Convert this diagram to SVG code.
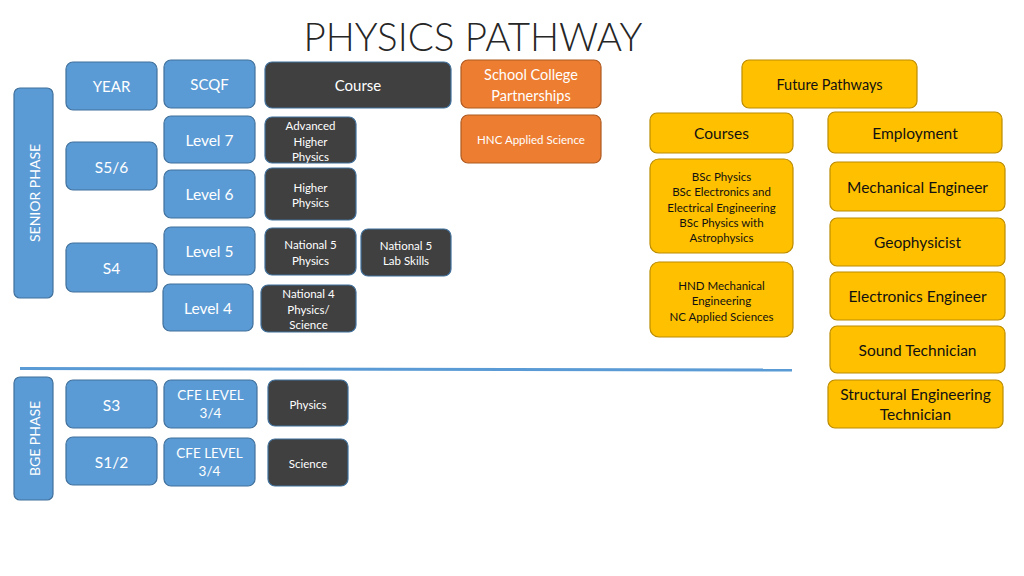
<svg xmlns="http://www.w3.org/2000/svg" width="1024" height="576" viewBox="0 0 1024 576">
<style>
text{font-family:Lato,"Liberation Sans",sans-serif;text-anchor:middle;dominant-baseline:central}
.b{fill:#5B9BD5;stroke:#41719C;stroke-width:1.2}
.d{fill:#404040;stroke:#41719C;stroke-width:1.2}
.o{fill:#ED7D31;stroke:#AE5A21;stroke-width:1.2}
.g{fill:#FFC000;stroke:#BC8C00;stroke-width:1.2}
.tw{fill:#fff;font-size:15.5px}
.ts{fill:#fff;font-size:11.5px}
.tg{fill:#111;font-size:15.5px}
.tgs{fill:#111;font-size:11.5px}
</style>
<rect width="1024" height="576" fill="#fff"/>
<text x="473" y="36" style="font-size:38.5px;font-weight:300;fill:#262626">PHYSICS PATHWAY</text>

<g id="senior-phase"><rect class="b" x="14" y="88" width="39" height="210" rx="6"/><text class="tw" transform="translate(34,193) rotate(-90)" style="font-size:14px">SENIOR PHASE</text></g>
<g id="year"><rect class="b" x="66" y="62" width="91" height="48" rx="7"/><text class="tw" x="111.5" y="86" style="font-size:15px">YEAR</text></g>
<g id="scqf"><rect class="b" x="164" y="60" width="91" height="48" rx="7"/><text class="tw" x="209.5" y="84" style="font-size:15px">SCQF</text></g>
<g id="course"><rect class="d" x="265" y="62" width="186" height="46" rx="7"/><text class="tw" x="358" y="85" style="font-size:15px">Course</text></g>
<g id="scp"><rect class="o" x="461" y="60" width="140" height="48" rx="7"/><text class="tw" x="531" y="74" style="font-size:14.5px">School College</text><text class="tw" x="531" y="95" style="font-size:14.5px">Partnerships</text></g>
<g id="future"><rect class="g" x="742" y="60" width="175" height="48" rx="7"/><text class="tg" x="829.5" y="84" style="font-size:14.5px">Future Pathways</text></g>

<g id="level7"><rect class="b" x="164" y="116" width="91" height="47" rx="7"/><text class="tw" x="209.5" y="140">Level 7</text></g>
<g id="adv-higher"><rect class="d" x="265" y="117" width="91" height="46" rx="7"/><text class="ts" x="310.5" y="125">Advanced</text><text class="ts" x="310.5" y="141">Higher</text><text class="ts" x="310.5" y="156">Physics</text></g>
<g id="hnc"><rect class="o" x="461" y="115" width="140" height="48" rx="7"/><text class="ts" x="531" y="139.5">HNC Applied Science</text></g>
<g id="courses"><rect class="g" x="650" y="113" width="143" height="40" rx="7"/><text class="tg" x="721.5" y="133">Courses</text></g>
<g id="employment"><rect class="g" x="828" y="112" width="174" height="41" rx="7"/><text class="tg" x="915" y="132.5">Employment</text></g>

<g id="s56"><rect class="b" x="66" y="142" width="91" height="48" rx="7"/><text class="tw" x="111.5" y="167">S5/6</text></g>
<g id="level6"><rect class="b" x="164" y="170" width="91" height="48" rx="7"/><text class="tw" x="209.5" y="194">Level 6</text></g>
<g id="higher"><rect class="d" x="265" y="168" width="91" height="52" rx="7"/><text class="ts" x="310.5" y="187">Higher</text><text class="ts" x="310.5" y="202">Physics</text></g>
<g id="bsc"><rect class="g" x="650" y="159" width="143" height="94" rx="9"/><text class="tgs" x="721.5" y="176">BSc Physics</text><text class="tgs" x="721.5" y="191">BSc Electronics and</text><text class="tgs" x="721.5" y="207">Electrical Engineering</text><text class="tgs" x="721.5" y="222">BSc Physics with</text><text class="tgs" x="721.5" y="237">Astrophysics</text></g>
<g id="mech"><rect class="g" x="830" y="162" width="175" height="49" rx="7"/><text class="tg" x="917.5" y="187">Mechanical Engineer</text></g>

<g id="level5"><rect class="b" x="164" y="227" width="91" height="48" rx="7"/><text class="tw" x="209.5" y="251">Level 5</text></g>
<g id="nat5"><rect class="d" x="265" y="228" width="91" height="47" rx="7"/><text class="ts" x="310.5" y="244">National 5</text><text class="ts" x="310.5" y="260">Physics</text></g>
<g id="nat5lab"><rect class="d" x="361" y="229" width="90" height="47" rx="7"/><text class="ts" x="406" y="245">National 5</text><text class="ts" x="406" y="260">Lab Skills</text></g>
<g id="s4"><rect class="b" x="66" y="243" width="91" height="49" rx="7"/><text class="tw" x="111.5" y="268">S4</text></g>
<g id="geo"><rect class="g" x="830" y="218" width="175" height="48" rx="7"/><text class="tg" x="917.5" y="242">Geophysicist</text></g>
<g id="hnd"><rect class="g" x="650" y="262" width="143" height="75" rx="9"/><text class="tgs" x="721.5" y="285">HND Mechanical</text><text class="tgs" x="721.5" y="300">Engineering</text><text class="tgs" x="721.5" y="316">NC Applied Sciences</text></g>
<g id="elec"><rect class="g" x="830" y="272" width="175" height="48" rx="7"/><text class="tg" x="917.5" y="296">Electronics Engineer</text></g>
<g id="level4"><rect class="b" x="163" y="284" width="90" height="47" rx="7"/><text class="tw" x="208" y="308">Level 4</text></g>
<g id="nat4"><rect class="d" x="261" y="285" width="95" height="47" rx="7"/><text class="ts" x="308.5" y="293">National 4</text><text class="ts" x="308.5" y="309">Physics/</text><text class="ts" x="308.5" y="324">Science</text></g>
<g id="sound"><rect class="g" x="830" y="326" width="175" height="47" rx="7"/><text class="tg" x="917.5" y="350">Sound Technician</text></g>

<g id="connectors"><line x1="20" y1="368.5" x2="792" y2="370" stroke="#5B9BD5" stroke-width="3"/></g>

<g id="struct"><rect class="g" x="828" y="380" width="175" height="48" rx="7"/><text class="tg" x="915.5" y="394">Structural Engineering</text><text class="tg" x="915.5" y="414">Technician</text></g>
<g id="bge-phase"><rect class="b" x="14" y="377" width="39" height="123" rx="6"/><text class="tw" transform="translate(34,438.5) rotate(-90)" style="font-size:14px">BGE PHASE</text></g>
<g id="s3"><rect class="b" x="66" y="380" width="91" height="48" rx="7"/><text class="tw" x="111.5" y="405">S3</text></g>
<g id="cfe1"><rect class="b" x="164" y="380" width="93" height="48" rx="7"/><text class="tw" x="210.5" y="395" style="font-size:13.5px">CFE LEVEL</text><text class="tw" x="210.5" y="413" style="font-size:13.5px">3/4</text></g>
<g id="physics"><rect class="d" x="268" y="380" width="80" height="46" rx="7"/><text class="ts" x="308" y="404">Physics</text></g>
<g id="s12"><rect class="b" x="66" y="437" width="91" height="48" rx="7"/><text class="tw" x="111.5" y="462">S1/2</text></g>
<g id="cfe2"><rect class="b" x="164" y="438" width="91" height="48" rx="7"/><text class="tw" x="209.5" y="453" style="font-size:13.5px">CFE LEVEL</text><text class="tw" x="209.5" y="471" style="font-size:13.5px">3/4</text></g>
<g id="science"><rect class="d" x="268" y="439" width="80" height="47" rx="7"/><text class="ts" x="308" y="463">Science</text></g>
</svg>
